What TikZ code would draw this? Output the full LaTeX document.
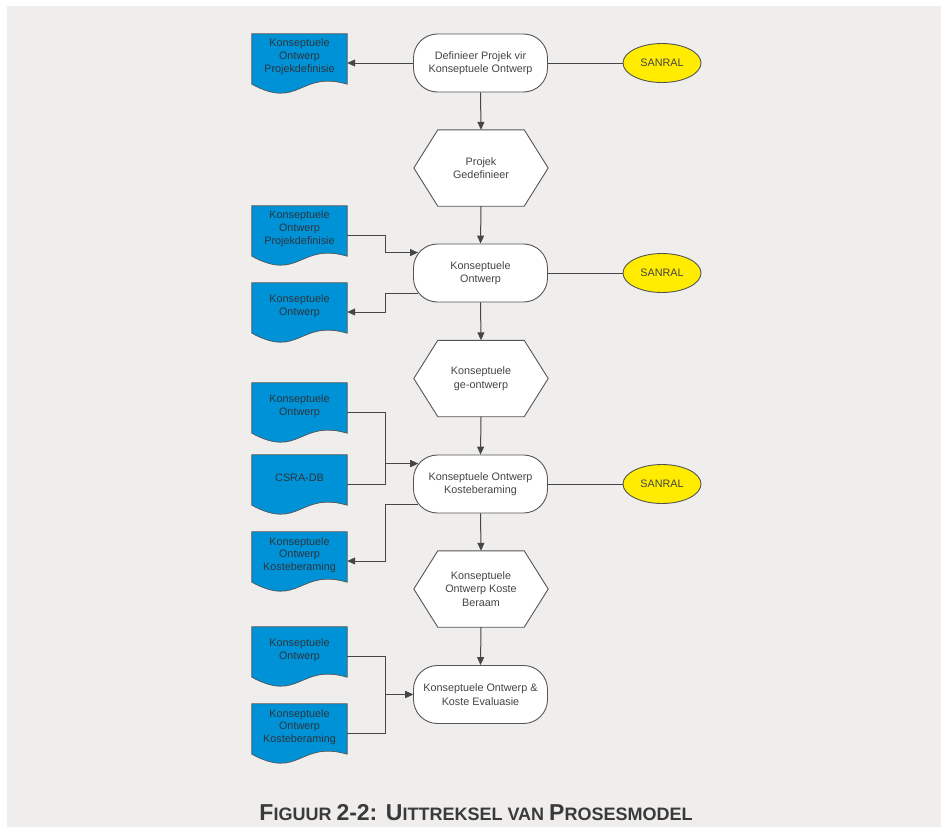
\documentclass[tikz,border=0pt]{standalone}
\usepackage{fontspec}
\setmainfont{Liberation Sans}
\usetikzlibrary{arrows.meta,calc,shapes.geometric,backgrounds}

\definecolor{pagebg}{RGB}{239,238,236}
\definecolor{docblue}{RGB}{0,146,214}
\definecolor{sanralfill}{RGB}{255,236,0}
\definecolor{edge}{RGB}{85,85,85}
\definecolor{wire}{RGB}{70,70,70}
\definecolor{ink}{RGB}{68,68,68}
\definecolor{docink}{RGB}{45,52,60}
\definecolor{capink}{RGB}{58,58,58}

\newcommand\capL{\fontsize{23}{26}\selectfont}
\newcommand\capS{\fontsize{18}{26}\selectfont}

% document outline with a wavy bottom edge
\newcommand\docoutline[1]{%
  \draw[docline] (#1.north west) -- (#1.north east) -- ([yshift=8pt]#1.south east)
    .. controls ([yshift=22pt]#1.south) and ([yshift=-18pt]#1.south) .. ([yshift=8pt]#1.south west) -- cycle;}
% six-sided decision/event outline
\newcommand\hexoutline[1]{%
  \draw[hexline] ([xshift=24pt]#1.north west) -- ([xshift=-24pt]#1.north east) -- (#1.east)
    -- ([xshift=-24pt]#1.south east) -- ([xshift=24pt]#1.south west) -- (#1.west) -- cycle;}

\tikzset{
  x=1pt, y=-1pt,
  every node/.style={font=\fontsize{10.8}{13.5}\selectfont, text=ink},
  proc/.style={draw=edge, fill=white, line width=0.9pt, rounded corners=24pt,
    minimum width=134pt, minimum height=58pt, align=center, inner sep=0pt},
  hexbox/.style={minimum width=134pt, minimum height=76pt, align=center, inner sep=0pt},
  hexline/.style={draw=edge, fill=white, line width=0.9pt},
  doc/.style={minimum width=95pt, minimum height=58pt, inner sep=0pt},
  docline/.style={draw=edge, fill=docblue, line width=0.7pt},
  doctext/.style={font=\fontsize{10.8}{12.8}\selectfont, text=docink, align=center, inner sep=0pt},
  agent/.style={ellipse, draw=edge, fill=sanralfill, line width=0.9pt,
    minimum width=78pt, minimum height=39pt, inner sep=0pt},
  arr/.style={draw=wire, line width=1pt, -{Triangle[length=8pt,width=7pt]}},
  link/.style={draw=wire, line width=1pt},
}

\begin{document}
\begin{tikzpicture}
\useasboundingbox (0,0) rectangle (941,827);

% main process column
\node[proc] (n1) at (480.5,63) {Definieer Projek vir\\Konseptuele Ontwerp};
\node[hexbox] (h1) at (481,168) {Projek\\Gedefinieer};
\node[proc] (n2) at (480.5,273) {Konseptuele\\Ontwerp};
\node[hexbox] (h2) at (481,378.5) {Konseptuele\\ge-ontwerp};
\node[proc] (n3) at (480.5,484) {Konseptuele Ontwerp\\Kosteberaming};
\node[hexbox] (h3) at (481,589) {Konseptuele\\Ontwerp Koste\\Beraam};
\node[proc] (n4) at (480.5,694.5) {Konseptuele Ontwerp \&\\Koste Evaluasie};

% responsible party
\node[agent] (s1) at (662,63) {SANRAL};
\node[agent] (s2) at (662,273) {SANRAL};
\node[agent] (s3) at (662,484) {SANRAL};

% documents
\node[doc, label={[doctext, yshift=6pt]center:{Konseptuele\\Ontwerp\\Projekdefinisie}}] (d1) at (299.5,63) {};
\node[doc, label={[doctext, yshift=6pt]center:{Konseptuele\\Ontwerp\\Projekdefinisie}}] (d2) at (299.5,235) {};
\node[doc, label={[doctext, yshift=6pt]center:{Konseptuele\\Ontwerp}}] (d3) at (299.5,312) {};
\node[doc, label={[doctext, yshift=6pt]center:{Konseptuele\\Ontwerp}}] (d4) at (299.5,412) {};
\node[doc, label={[doctext, yshift=6pt]center:{CSRA-DB}}] (d5) at (299.5,484) {};
\node[doc, label={[doctext, yshift=6pt]center:{Konseptuele\\Ontwerp\\Kosteberaming}}] (d6) at (299.5,561) {};
\node[doc, label={[doctext, yshift=6pt]center:{Konseptuele\\Ontwerp}}] (d7) at (299.5,656) {};
\node[doc, label={[doctext, yshift=6pt]center:{Konseptuele\\Ontwerp\\Kosteberaming}}] (d8) at (299.5,733) {};

% points where side connectors meet the rounded corners
\coordinate (n2in)  at ([xshift=5pt,yshift=-9pt]n2.north west);
\coordinate (n2out) at ([xshift=5pt,yshift=9pt]n2.south west);
\coordinate (n3in)  at ([xshift=5pt,yshift=-9pt]n3.north west);
\coordinate (n3out) at ([xshift=5pt,yshift=9pt]n3.south west);

\begin{pgfonlayer}{background}
  \fill[white] (0,0) rectangle (941,827);
  \fill[pagebg] (7,6) rectangle (941,827);
  \hexoutline{h1}
  \hexoutline{h2}
  \hexoutline{h3}
  \docoutline{d1}
  \docoutline{d2}
  \docoutline{d3}
  \docoutline{d4}
  \docoutline{d5}
  \docoutline{d6}
  \docoutline{d7}
  \docoutline{d8}
\end{pgfonlayer}

% flow down the column
\draw[arr] (n1.south) -- (h1.north);
\draw[arr] (h1.south) -- (n2.north);
\draw[arr] (n2.south) -- (h2.north);
\draw[arr] (h2.south) -- (n3.north);
\draw[arr] (n3.south) -- (h3.north);
\draw[arr] (h3.south) -- (n4.north);

% SANRAL links
\draw[link] (n1.east) -- (s1.west);
\draw[link] (n2.east) -- (s2.west);
\draw[link] (n3.east) -- (s3.west);

% document inputs and outputs
\draw[arr] (n1.west) -- (d1.east);
\draw[arr] (d2.east) -- ++(38,0) |- (n2in);
\draw[arr] (n2out) -- ++(-33,0) |- (d3.east);
\draw[arr] (d4.east) -- ++(38,0) |- (n3in);
\draw[arr] (d5.east) -- ++(38,0) |- (n3in);
\draw[arr] (n3out) -- ++(-33,0) |- (d6.east);
\draw[arr] (d7.east) -- ++(38,0) |- (n4.west);
\draw[arr] (d8.east) -- ++(38,0) |- (n4.west);

% caption
\node[text=capink, font=\bfseries, anchor=base, inner sep=0pt] (cap) at (476,820)
  {\capL F\capS IGUUR \capL 2-2: U\capS ITTREKSEL VAN \capL P\capS ROSESMODEL};
\end{tikzpicture}
\end{document}
